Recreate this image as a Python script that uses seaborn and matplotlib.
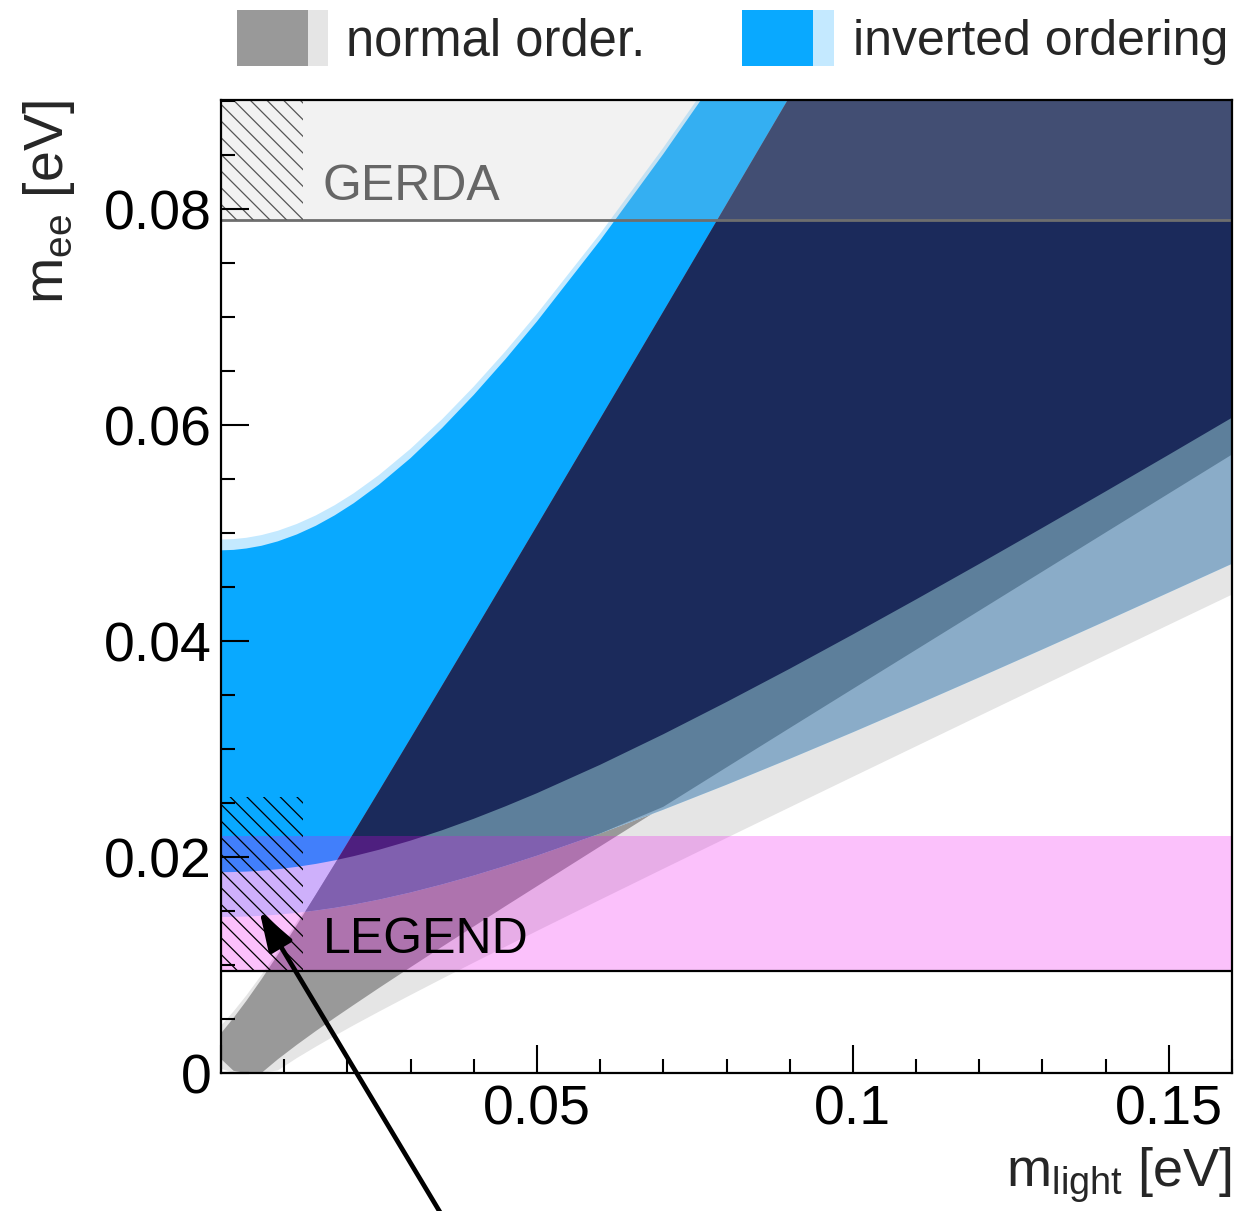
import numpy as np
import matplotlib
matplotlib.use("Agg")
import matplotlib.pyplot as plt
import seaborn as sns
from matplotlib.patches import Rectangle
from matplotlib.ticker import MultipleLocator, FuncFormatter

# ---------------- data ----------------
m_light = [0, 0.002, 0.004, 0.0064, 0.009, 0.012, 0.015, 0.018, 0.021, 0.025,
           0.03, 0.035, 0.04, 0.045, 0.05, 0.06, 0.07, 0.08, 0.09, 0.10,
           0.11, 0.12, 0.13, 0.14, 0.15, 0.16]

# normal ordering, dark (best fit) band
no_dark_low = [0.0013, 0.0002, 0.0, 0.0, 0.00127, 0.00261, 0.00388, 0.00511, 0.00630, 0.00787,
               0.00979, 0.01169, 0.01357, 0.01544, 0.01729, 0.02098, 0.02465, 0.02830, 0.03194, 0.03557,
               0.03919, 0.04281, 0.04643, 0.05005, 0.05366, 0.05727]
no_dark_high = [0.00368, 0.00511, 0.00667, 0.00867, 0.01096, 0.01370, 0.01651, 0.01936, 0.02224, 0.02611,
                0.03099, 0.03589, 0.04081, 0.04574, 0.05068, 0.06058, 0.07051, 0.08045, 0.09041, 0.10037,
                0.11034, 0.12031, 0.13029, 0.14027, 0.15025, 0.16024]
# normal ordering, light (extended) band
no_light_low = [0.0004, 0.0, 0.0, 0.0, 0.00024, 0.00138, 0.00243, 0.00344, 0.00442, 0.00568,
                0.00722, 0.00873, 0.01022, 0.01169, 0.01315, 0.01604, 0.01891, 0.02176, 0.02460, 0.02743,
                0.03025, 0.03307, 0.03588, 0.03869, 0.04150, 0.04430]
no_light_high = [0.00438, 0.00571, 0.00717, 0.00907, 0.01126, 0.01400, 0.01671, 0.01956, 0.02244, 0.02631,
                 0.03119, 0.03599, 0.04091, 0.04584, 0.05078, 0.06068, 0.07061, 0.08055, 0.09051, 0.10047,
                 0.11044, 0.12041, 0.13039, 0.14037, 0.15035, 0.16034]
# inverted ordering, dark band
io_dark_low = [0.01859, 0.01861, 0.01865, 0.01873, 0.01887, 0.01909, 0.01936, 0.01969, 0.02008, 0.02067,
               0.02152, 0.02248, 0.02354, 0.02469, 0.02591, 0.02854, 0.03137, 0.03435, 0.03743, 0.04061,
               0.04385, 0.04714, 0.05048, 0.05385, 0.05725, 0.06068]
io_dark_high = [0.04840, 0.04844, 0.04857, 0.04882, 0.04923, 0.04987, 0.05067, 0.05164, 0.05276, 0.05448,
                0.05694, 0.05973, 0.06279, 0.06609, 0.06959, 0.07709, 0.08510, 0.09350, 0.10219, 0.11110,
                0.12018, 0.12939, 0.13872, 0.14813, 0.15762, 0.16716]
# inverted ordering, light band
io_light_low = [0.01445, 0.01446, 0.01449, 0.01456, 0.01466, 0.01483, 0.01505, 0.01530, 0.01560, 0.01606,
                0.01672, 0.01747, 0.01829, 0.01918, 0.02013, 0.02218, 0.02438, 0.02669, 0.02909, 0.03155,
                0.03407, 0.03663, 0.03922, 0.04184, 0.04449, 0.04715]
io_light_high = [0.04940, 0.04944, 0.04956, 0.04981, 0.05021, 0.05084, 0.05163, 0.05258, 0.05368, 0.05537,
                 0.05780, 0.06054, 0.06356, 0.06682, 0.07029, 0.07772, 0.08568, 0.09402, 0.10267, 0.11154,
                 0.12058, 0.12977, 0.13907, 0.14846, 0.15793, 0.16745]

gerda_limit = 0.079
legend_band = [0.0094, 0.0219]
hatch_x = [0.0, 0.0129]
gerda_hatch = [0.079, 0.0901]
legend_hatch = [0.0094, 0.0256]
arrow_tip = (0.0061, 0.0150)
arrow_tail = (0.0358, -0.0140)

x_ticklabels = ["0.05", "0.1", "0.15"]
legend_labels = ["normal order.", "inverted ordering"]

for arr in (no_dark_low, no_dark_high, no_light_low, no_light_high,
            io_dark_low, io_dark_high, io_light_low, io_light_high):
    assert len(arr) == len(m_light)

# ---------------- style ----------------
sns.set_theme(style="ticks")
plt.rcParams["font.family"] = ["Liberation Sans", "DejaVu Sans"]
plt.rcParams["mathtext.fontset"] = "custom"
plt.rcParams["mathtext.rm"] = "Liberation Sans"
plt.rcParams["hatch.linewidth"] = 0.9
plt.rcParams["axes.edgecolor"] = "black"
plt.rcParams["axes.linewidth"] = 1.6

C_NO_DARK = "#999999"
C_NO_LIGHT = "#e5e5e5"
C_IO_DARK = "#09a9ff"
C_IO_LIGHT = "#c4e9ff"
C_BOTH_DARK = "#1b2a5b"
C_IOL_NOD = "#5d7f9b"
C_IOL_NOL = "#8aacc8"

W, H = 1239, 1211
fig = plt.figure(figsize=(W / 100, H / 100), dpi=100)
ax = fig.add_axes([221 / W, (H - 1073) / H, (1232 - 221) / W, (1073 - 100) / H])
ax.set_xlim(0, 0.16)
ax.set_ylim(0, 0.0901)

x = np.array(m_light)


def band(lo, hi, color, z):
    lo = np.asarray(lo, float)
    hi = np.asarray(hi, float)
    ax.fill_between(x, lo, hi, where=hi > lo, interpolate=True,
                    facecolor=color, edgecolor="none", lw=0, zorder=z)


nol_lo, nol_hi = np.array(no_light_low), np.array(no_light_high)
nod_lo, nod_hi = np.array(no_dark_low), np.array(no_dark_high)
iol_lo, iol_hi = np.array(io_light_low), np.array(io_light_high)
iod_lo, iod_hi = np.array(io_dark_low), np.array(io_dark_high)

band(nol_lo, nol_hi, C_NO_LIGHT, 1.0)
band(nod_lo, nod_hi, C_NO_DARK, 1.1)
band(iol_lo, iol_hi, C_IO_LIGHT, 1.2)
band(iod_lo, iod_hi, C_IO_DARK, 1.3)
band(np.maximum(iol_lo, nol_lo), np.minimum(iol_hi, nod_hi), C_IOL_NOL, 1.4)
band(np.maximum(iol_lo, nod_lo), np.minimum(iol_hi, nod_hi), C_IOL_NOD, 1.5)
band(np.maximum(iod_lo, nod_lo), np.minimum(iod_hi, nod_hi), C_BOTH_DARK, 1.6)

# experimental sensitivity bands
ax.axhspan(gerda_limit, 0.0901, facecolor="#c7c7c7", alpha=0.233, lw=0, zorder=2.0)
ax.axhspan(legend_band[0], legend_band[1], facecolor="#f000f0", alpha=0.245, lw=0, zorder=2.0)
sns.lineplot(x=x, y=np.full(len(x), gerda_limit), ax=ax, color="#6e6e6e", lw=2.0,
             zorder=2.1, legend=False)
sns.lineplot(x=x, y=np.full(len(x), legend_band[0]), ax=ax, color="black", lw=1.6,
             zorder=2.1, legend=False)

# hatched regions
ax.fill_between(hatch_x, gerda_hatch[0], gerda_hatch[1], facecolor="none",
                edgecolor="#555555", hatch="\\\\", lw=0, zorder=2.2)
ax.fill_between(hatch_x, legend_hatch[0], legend_hatch[1], facecolor="none",
                edgecolor="black", hatch="\\\\", lw=0, zorder=2.2)

ax.text(0.01614, 0.08083, "GERDA", color="#666666", fontsize=36, ha="left",
        va="baseline", zorder=3)
ax.text(0.01614, 0.0111, "LEGEND", color="black", fontsize=36, ha="left",
        va="baseline", zorder=3)

ax.annotate("", xy=arrow_tip, xytext=arrow_tail,
            arrowprops=dict(arrowstyle="-|>,head_length=0.6,head_width=0.2",
                            color="black", lw=3.4, shrinkA=0, shrinkB=0,
                            mutation_scale=40),
            annotation_clip=False, zorder=4)

# axes / ticks
ax.set_axisbelow(False)
ax.xaxis.set_major_locator(MultipleLocator(0.05))
ax.xaxis.set_minor_locator(MultipleLocator(0.01))
ax.yaxis.set_major_locator(MultipleLocator(0.02))
ax.yaxis.set_minor_locator(MultipleLocator(0.005))
ax.xaxis.set_major_formatter(FuncFormatter(
    lambda v, p: "" if abs(v) < 1e-9 else x_ticklabels[int(round(v / 0.05)) - 1]
    if 1 <= int(round(v / 0.05)) <= len(x_ticklabels) else ""))
ax.yaxis.set_major_formatter(FuncFormatter(lambda v, p: "0" if abs(v) < 1e-9 else f"{v:.2f}"))
ax.tick_params(which="both", direction="in", top=False, right=False, colors="black")
ax.tick_params(which="major", length=20, width=1.5, labelsize=40)
ax.tick_params(which="minor", length=10, width=1.5)
ax.tick_params(axis="x", which="major", pad=8.5)
ax.tick_params(axis="y", which="major", pad=6.5)
for s in ax.spines.values():
    s.set_color("black")
    s.set_linewidth(1.6)
    s.set_zorder(5)

fig.text(1232 / W, 1 - 1187 / H, r"m$_{\mathregular{light}}$ [eV]", fontsize=39,
         ha="right", va="baseline")
fig.text(63 / W, 1 - 100 / H, r"m$_{\mathregular{ee}}$ [eV]", fontsize=40,
         rotation=90, rotation_mode="anchor", ha="right", va="baseline")

# legend swatches at the top
y0, hh = 1 - 66 / H, 56 / H
fig.add_artist(Rectangle((237 / W, y0), 71 / W, hh, transform=fig.transFigure,
                         facecolor=C_NO_DARK, lw=0))
fig.add_artist(Rectangle((308 / W, y0), 20 / W, hh, transform=fig.transFigure,
                         facecolor=C_NO_LIGHT, lw=0))
fig.add_artist(Rectangle((742 / W, y0), 71 / W, hh, transform=fig.transFigure,
                         facecolor=C_IO_DARK, lw=0))
fig.add_artist(Rectangle((813 / W, y0), 21 / W, hh, transform=fig.transFigure,
                         facecolor=C_IO_LIGHT, lw=0))
fig.text(346 / W, 1 - 55 / H, legend_labels[0], fontsize=36.5, ha="left", va="baseline")
fig.text(853 / W, 1 - 55 / H, legend_labels[1], fontsize=36, ha="left", va="baseline")

fig.savefig("out.png", dpi=100)
